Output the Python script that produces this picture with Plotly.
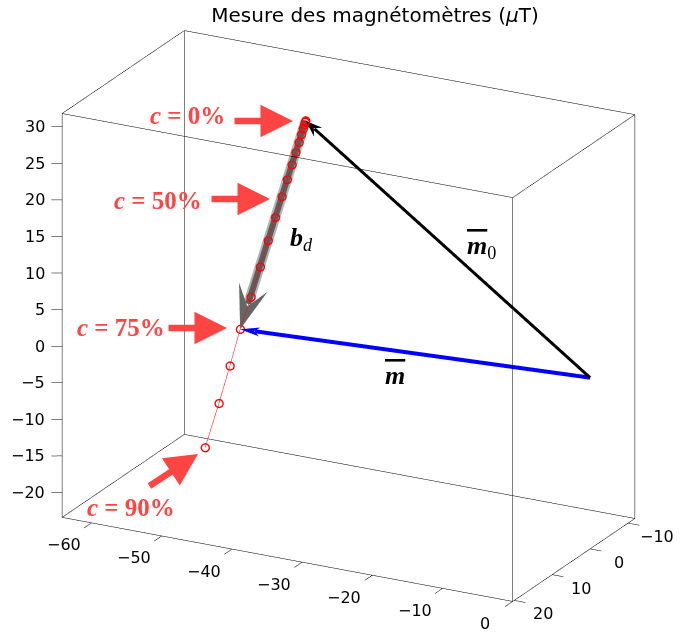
import plotly.graph_objects as go
import numpy as np

# ---- data (µT) ----
c_pct = [0, 5, 10, 15, 20, 25, 30, 35, 40, 45, 50, 55, 60, 65, 70, 75, 80, 85, 90]
b_x = [-37.84, -37.85, -37.90, -38.01, -38.20, -38.45, -38.79, -39.25, -39.79, -40.47,
       -41.22, -42.15, -43.19, -44.31, -45.63, -47.16, -48.62, -50.19, -52.16]
b_y = [5.0] * 19
b_z = [30.10, 30.06, 29.90, 29.54, 28.95, 28.11, 26.98, 25.53, 23.74, 21.59,
       19.14, 16.13, 12.77, 8.97, 4.61, -0.06, -5.33, -10.74, -17.14]
origin = [0.0, 0.0, 0.0]
x_ticks = [-60, -50, -40, -30, -20, -10, 0]
y_ticks = [-10, 0, 10, 20]
z_ticks = [-20, -15, -10, -5, 0, 5, 10, 15, 20, 25, 30]
x_lim = [-64.2, 0.0]
y_lim = [20.4, -11.8]      # reversed axis (front = 20.4)
z_lim = [-23.4, 31.8]

# ---- view geometry (style) ----
box_px = np.array([508.0, 262.8, 431.5])          # box edge lengths on screen scale
eye_dir = np.array([0.4339, -0.8278, 0.356])
eye_dist = 2.0
zoom = 1.61
ext = np.array([2.0, 2.6, 0.5])                    # room around the box for tick marks
span = np.array([x_lim[1] - x_lim[0], y_lim[1] - y_lim[0], z_lim[1] - z_lim[0]])
g = box_px / span                                  # data -> isotropic pixel space
x_range = [x_lim[0] - ext[0], x_lim[1] + ext[0]]
y_range = [y_lim[0] + ext[1], y_lim[1] - ext[1]]
z_range = [z_lim[0] - ext[2], z_lim[1] + ext[2]]
span_r = np.abs(np.array([x_range[1] - x_range[0], y_range[1] - y_range[0], z_range[1] - z_range[0]]))
asp = zoom * span_r * np.abs(g) / box_px[0]

m0 = np.array([b_x[0], b_y[0], b_z[0]])
i75 = c_pct.index(75)
m = np.array([b_x[i75], b_y[i75], b_z[i75]])
o = np.array(origin)

def unit(v):
    return v / np.linalg.norm(v)

def mesh(verts_phys, tris, color):
    V = np.array(verts_phys) / g
    return go.Mesh3d(x=V[:, 0], y=V[:, 1], z=V[:, 2],
                     i=[t[0] for t in tris], j=[t[1] for t in tris], k=[t[2] for t in tris],
                     color=color, flatshading=True, hoverinfo="skip",
                     lighting=dict(ambient=1, diffuse=0, specular=0, roughness=1, fresnel=0))

def arrow(tail, tip, shaft_hw, head_len, head_hw, notch, color, back):
    a, t = tail * g, tip * g
    u = unit(t - a)
    w = unit(np.cross(u, eye_dir))
    off = -eye_dir * back
    s_end = t - u * (notch + 1.0)
    shaft = [a + w * shaft_hw + off, a - w * shaft_hw + off, s_end - w * shaft_hw + off, s_end + w * shaft_hw + off]
    base = t - u * head_len
    hd = [t + off, base + w * head_hw + off, t - u * notch + off, base - w * head_hw + off]
    return [mesh(shaft, [(0, 1, 2), (0, 2, 3)], color), mesh(hd, [(0, 1, 2), (0, 2, 3)], color)]

def ribbon(tail, tip, hw, color, back, cut):
    a, t = tail * g, tip * g
    u = unit(t - a)
    w = unit(np.cross(u, eye_dir))
    off = -eye_dir * back
    e = t - u * cut
    return mesh([a + w * hw + off, a - w * hw + off, e - w * hw + off, e + w * hw + off], [(0, 1, 2), (0, 2, 3)], color)

fig = go.Figure()

# box edges and tick marks
xs, ys, zs = [], [], []
X0, X1 = x_lim; Y0, Y1 = y_lim; Z0, Z1 = z_lim
segs = [((X0, Y0, Z0), (X1, Y0, Z0)), ((X0, Y1, Z0), (X1, Y1, Z0)), ((X0, Y0, Z1), (X1, Y0, Z1)), ((X0, Y1, Z1), (X1, Y1, Z1)),
        ((X0, Y0, Z0), (X0, Y1, Z0)), ((X1, Y0, Z0), (X1, Y1, Z0)), ((X0, Y0, Z1), (X0, Y1, Z1)), ((X1, Y0, Z1), (X1, Y1, Z1)),
        ((X0, Y0, Z0), (X0, Y0, Z1)), ((X1, Y0, Z0), (X1, Y0, Z1)), ((X0, Y1, Z0), (X0, Y1, Z1)), ((X1, Y1, Z0), (X1, Y1, Z1))]
for xt in x_ticks:
    segs.append(((xt, Y0, Z0), (xt, Y0 + 2.0, Z0)))
for yt in y_ticks:
    segs.append(((X1, yt, Z0), (X1 + 1.6, yt, Z0)))
for zt in z_ticks:
    segs.append(((X0, Y0, zt), (X0 - 1.19, Y0 + 0.62, zt)))
for (p, q) in segs:
    xs += [p[0], q[0], None]; ys += [p[1], q[1], None]; zs += [p[2], q[2], None]
fig.add_trace(go.Scatter3d(x=xs, y=ys, z=zs, mode="lines", line=dict(color="black", width=1),
                           connectgaps=False, hoverinfo="skip"))

# b_d (gray) arrow
fig.add_trace(ribbon(m0, m, 5.0, "#b4b4b4", 3.0, 30))
fig.add_trace(ribbon(m0, m, 3.0, "#5e5e5e", 2.0, 30))
gray = arrow(m0, m, 0.1, 50, 15, 27, "#666666", 1.5)
fig.add_trace(gray[1])

# m0 (black) and m (blue)
for tr in arrow(o, m0, 1.5, 17, 6.0, 11, "black", 1.0):
    fig.add_trace(tr)
for tr in arrow(o, m, 2.0, 21, 4.5, 15, "blue", 1.0):
    fig.add_trace(tr)

# measured curve
fig.add_trace(go.Scatter3d(x=b_x, y=b_y, z=b_z, mode="lines+markers",
                           line=dict(color="red", width=1),
                           marker=dict(symbol="circle-open", size=5, color="red", line=dict(width=1, color="red")),
                           hoverinfo="skip"))

axis_common = dict(showbackground=False, showgrid=False, zeroline=False, showline=False,
                   mirror=False, ticks="", showticklabels=False, showspikes=False, title=dict(text=""))

# tick labels as scene annotations
tick_font = dict(family="DejaVu Sans", size=16, color="black")
def fmt(v):
    return str(v).replace("-", "\u2212")
scene_ann = []
for xt in x_ticks:
    scene_ann.append(dict(x=xt, y=Y0, z=Z0, text=fmt(xt), showarrow=False, xanchor="center", yanchor="middle",
                          xshift=-28, yshift=-22, font=tick_font))
for yt in y_ticks:
    scene_ann.append(dict(x=X1, y=yt, z=Z0, text=fmt(yt), showarrow=False, xanchor="center", yanchor="middle",
                          xshift=29, yshift=-13.5, font=tick_font))
for zt in z_ticks:
    scene_ann.append(dict(x=X0, y=Y0, z=zt, text=fmt(zt), showarrow=False, xanchor="right", yanchor="middle",
                          xshift=-15, yshift=0, font=tick_font))

fig.update_layout(
    width=697, height=632, margin=dict(l=0, r=0, t=0, b=0),
    paper_bgcolor="white", showlegend=False,
    title=dict(text="Mesure des magnétomètres (<i>μ</i>T)", x=375 / 697, xanchor="center",
               y=1 - 15 / 632, yanchor="middle", font=dict(family="DejaVu Sans", size=20, color="black")),
    scene=dict(
        xaxis=dict(range=x_range, **axis_common),
        yaxis=dict(range=y_range, **axis_common),
        zaxis=dict(range=z_range, **axis_common),
        aspectmode="manual", aspectratio=dict(x=asp[0], y=asp[1], z=asp[2]),
        camera=dict(projection=dict(type="orthographic"),
                    eye=dict(x=eye_dir[0] * eye_dist, y=eye_dir[1] * eye_dist, z=eye_dir[2] * eye_dist),
                    up=dict(x=0, y=0, z=1), center=dict(x=0, y=0, z=0)),
        domain=dict(x=[0, 1], y=[0, 1]),
        annotations=scene_ann,
    ),
)

red = "#FF4444"
lab_font = dict(family="Liberation Serif", size=25, color=red)
W, H = 697, 632
def px(xp, yp):
    return xp / W, 1 - yp / H

labels = [("<b><i>c</i> = 0%</b>", 187, 116), ("<b><i>c</i> = 50%</b>", 158, 200),
          ("<b><i>c</i> = 75%</b>", 121, 327), ("<b><i>c</i> = 90%</b>", 131, 508)]
for t, xp, yp in labels:
    X, Y = px(xp, yp)
    fig.add_annotation(x=X, y=Y, xref="paper", yref="paper", text=t, showarrow=False,
                       font=lab_font, xanchor="center", yanchor="middle")

arrows = [((233, 121), (293, 121)), ((210, 199), (270, 199)), ((167, 328), (227, 328)), ((148, 487), (198, 454))]
for (tx, ty), (hx, hy) in arrows:
    X, Y = px(hx, hy)
    fig.add_annotation(x=X, y=Y, ax=tx - hx, ay=ty - hy, xref="paper", yref="paper",
                       axref="pixel", ayref="pixel",
                       text="", showarrow=True, arrowhead=2, arrowsize=1.0, arrowwidth=6.5, arrowcolor=red)

vec_font = dict(family="Liberation Serif", size=26, color="black")
for t, xp, yp in [("<b><i>b</i></b><sub><i>d</i></sub>", 301, 239),
                  ("<span style='text-decoration:overline'><b><i>m</i></b></span><sub>0</sub>", 481, 247),
                  ("<span style='text-decoration:overline'><b><i>m</i></b></span>", 395, 376)]:
    X, Y = px(xp, yp)
    fig.add_annotation(x=X, y=Y, xref="paper", yref="paper", text=t, showarrow=False,
                       font=vec_font, xanchor="center", yanchor="middle")

fig.write_html("out.html", config={"displayModeBar": False},
               post_script="document.body.style.margin='0';")
